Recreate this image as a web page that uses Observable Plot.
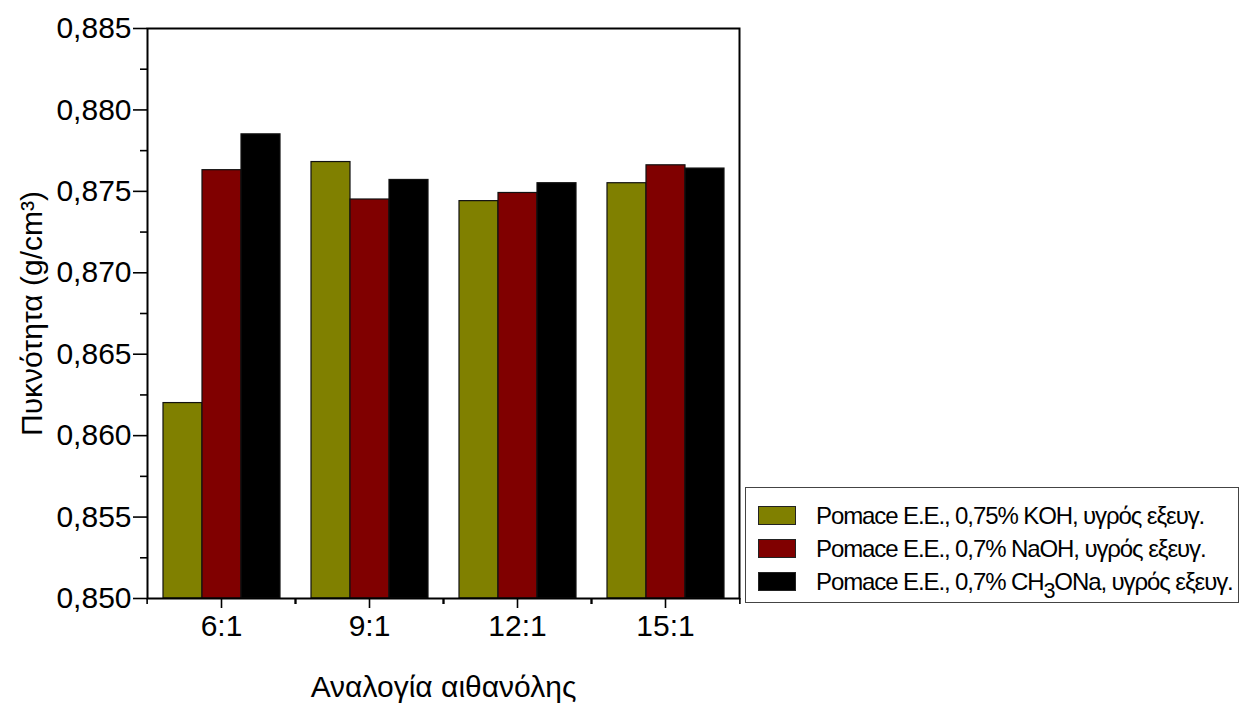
<!DOCTYPE html>
<html>
<head>
<meta charset="utf-8">
<script src="https://cdn.jsdelivr.net/npm/d3@7"></script>
<script src="https://cdn.jsdelivr.net/npm/@observablehq/plot@0.6"></script>
<style>
  html, body { margin: 0; padding: 0; background: #fff; }
  #wrap { position: relative; width: 1249px; height: 711px; overflow: hidden; }
  #legend { position: absolute; left: 745px; top: 487px; width: 494px; height: 116px;
    border: 1px solid #444; box-sizing: border-box; padding: 11px 0 0 12px;
    font-family: "Liberation Sans Narrow", "Liberation Sans", Arial, sans-serif; font-size: 24px; color: #000; }
  #legend .row { display: flex; align-items: center; height: 33px; white-space: nowrap; letter-spacing: -1.1px; }
  #legend .sw { width: 38px; height: 19px; border: 1px solid #222; box-sizing: border-box; margin-right: 20px; flex: none; }
  #legend sub { font-size: 0.9em; vertical-align: -0.35em; line-height: 0; }
</style>
</head>
<body>
<div id="wrap"></div>
<script>
const groups = ["6:1", "9:1", "12:1", "15:1"];
const series = ["KOH", "NaOH", "CH3ONa"];
const kohValues = [0.8620, 0.8768, 0.8744, 0.8755];
const naohValues = [0.8763, 0.8745, 0.8749, 0.8766];
const ch3onaValues = [0.8785, 0.8757, 0.8755, 0.8764];
const seriesColors = ["#808000", "#800000", "#000000"];
const legendLabels = [
  "Pomace E.E., 0,75% KOH, υγρός εξευγ.",
  "Pomace E.E., 0,7% NaOH, υγρός εξευγ.",
  "Pomace E.E., 0,7% CH<sub>3</sub>ONa, υγρός εξευγ."
];
const yMin = 0.850, yMax = 0.885;
const majorTicks = [0.850, 0.855, 0.860, 0.865, 0.870, 0.875, 0.880, 0.885];
const minorTicks = [0.8525, 0.8575, 0.8625, 0.8675, 0.8725, 0.8775, 0.8825];
const xLabel = "Αναλογία αιθανόλης";
const yLabel = "Πυκνότητα (g/cm³)";

const valuesBySeries = [kohValues, naohValues, ch3onaValues];
const rows = groups.flatMap((g, i) => series.map((s, j) => ({group: g, series: s, value: valuesBySeries[j][i]})));
const fmt = d => d.toFixed(3).replace(".", ",");
const FONT = "'Liberation Sans Narrow', 'Liberation Sans', Arial, sans-serif";
const halfStep = (1249 - 145 - 509) / groups.length / 2;

const plot = Plot.plot({
  width: 1249, height: 711,
  marginLeft: 145, marginRight: 509, marginTop: 28, marginBottom: 113,
  style: {fontFamily: FONT, color: "#000", background: "#fff", overflow: "visible"},
  fx: {domain: groups, padding: 0},
  x: {domain: series, paddingInner: 0, paddingOuter: 0.36, axis: null},
  y: {domain: [yMin, yMax]},
  color: {domain: series, range: seriesColors},
  marks: [
    Plot.barY(rows, {fx: "group", x: "series", y1: yMin, y2: "value", fill: "series", stroke: "#111", strokeWidth: 1.2}),
    Plot.axisY(majorTicks, {tickSize: 14, tickPadding: 2, tickFormat: fmt, fontSize: 30, strokeWidth: 1.6,
      style: {letterSpacing: "-0.8px"},
      label: yLabel, labelAnchor: "center", labelOffset: 127, labelArrow: "none"}),
    Plot.axisY(minorTicks, {tickSize: 7, strokeWidth: 1.6, tickFormat: () => "", label: null}),
    Plot.axisFx({anchor: "bottom", tickSize: 10, tickPadding: 6, fontSize: 30, strokeWidth: 1.6,
      label: xLabel, labelAnchor: "center", labelOffset: 98, labelArrow: "none"}),
    Plot.axisFx({anchor: "bottom", tickSize: 6, strokeWidth: 1.6, dx: -halfStep, tickFormat: () => "", label: null}),
    Plot.axisFx({anchor: "bottom", tickSize: 6, strokeWidth: 1.6, dx: halfStep, tickFormat: () => "", label: null}),
    Plot.frame({facet: "super", stroke: "#000", strokeWidth: 2})
  ]
});
document.getElementById("wrap").appendChild(plot);

const color = plot.scale("color");
const legend = document.createElement("div");
legend.id = "legend";
series.forEach((s, i) => {
  const row = document.createElement("div");
  row.className = "row";
  const sw = document.createElement("span");
  sw.className = "sw";
  sw.style.background = color.apply(s);
  const t = document.createElement("span");
  t.innerHTML = legendLabels[i];
  row.appendChild(sw); row.appendChild(t);
  legend.appendChild(row);
});
document.getElementById("wrap").appendChild(legend);
</script>
</body>
</html>
